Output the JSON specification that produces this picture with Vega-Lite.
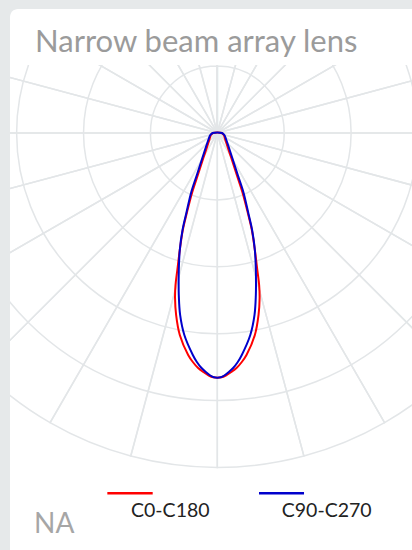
{
  "$schema": "https://vega.github.io/schema/vega-lite/v6.json",
  "width": 402,
  "height": 485,
  "autosize": {"type": "none"},
  "padding": {"left": 10, "top": 65, "right": 0, "bottom": 0},
  "background": "#e6e9ea",
  "config": {"view": {"stroke": null}, "font": "Lato"},
  "datasets": {
    "panel": [{"x0": -309.9, "x1": 350, "y0": -185.4, "y1": 700}],
    "grid": [
      {"t0": 0, "t1": 360, "r": 100}, {"t0": 0, "t1": 360, "r": 200}, {"t0": 0, "t1": 360, "r": 300}, {"t0": 0, "t1": 360, "r": 400},
      {"t0": 0, "t1": 15, "r": 500}, {"t0": 15, "t1": 30, "r": 500}, {"t0": 30, "t1": 45, "r": 500}, {"t0": 45, "t1": 60, "r": 500},
      {"t0": 60, "t1": 75, "r": 500}, {"t0": 75, "t1": 90, "r": 500}, {"t0": 90, "t1": 105, "r": 500}, {"t0": 105, "t1": 120, "r": 500},
      {"t0": 120, "t1": 135, "r": 500}, {"t0": 135, "t1": 150, "r": 500}, {"t0": 150, "t1": 165, "r": 500}, {"t0": 165, "t1": 180, "r": 500},
      {"t0": 180, "t1": 195, "r": 500}, {"t0": 195, "t1": 210, "r": 500}, {"t0": 210, "t1": 225, "r": 500}, {"t0": 225, "t1": 240, "r": 500},
      {"t0": 240, "t1": 255, "r": 500}, {"t0": 255, "t1": 270, "r": 500}, {"t0": 270, "t1": 285, "r": 500}, {"t0": 285, "t1": 300, "r": 500},
      {"t0": 300, "t1": 315, "r": 500}, {"t0": 315, "t1": 330, "r": 500}, {"t0": 330, "t1": 345, "r": 500}, {"t0": 345, "t1": 360, "r": 500}
    ],
    "curves": [
      {"series": "C0-C180", "o": 0, "x": 0, "y": -0.8},
      {"series": "C0-C180", "o": 1, "x": -6.5, "y": 0},
      {"series": "C0-C180", "o": 2, "x": -9.7, "y": 3},
      {"series": "C0-C180", "o": 3, "x": -12, "y": 10.5},
      {"series": "C0-C180", "o": 4, "x": -20.9, "y": 37.4},
      {"series": "C0-C180", "o": 5, "x": -29.1, "y": 62.8},
      {"series": "C0-C180", "o": 6, "x": -37.4, "y": 88.2},
      {"series": "C0-C180", "o": 7, "x": -45.6, "y": 119.6},
      {"series": "C0-C180", "o": 8, "x": -51.6, "y": 145},
      {"series": "C0-C180", "o": 9, "x": -56.1, "y": 174.9},
      {"series": "C0-C180", "o": 10, "x": -59.8, "y": 204.8},
      {"series": "C0-C180", "o": 11, "x": -62.5, "y": 227.2},
      {"series": "C0-C180", "o": 12, "x": -63.2, "y": 246.6},
      {"series": "C0-C180", "o": 13, "x": -61.6, "y": 272},
      {"series": "C0-C180", "o": 14, "x": -56.1, "y": 302},
      {"series": "C0-C180", "o": 15, "x": -43.6, "y": 331.8},
      {"series": "C0-C180", "o": 16, "x": -36.6, "y": 342.3},
      {"series": "C0-C180", "o": 17, "x": -28.7, "y": 351.3},
      {"series": "C0-C180", "o": 18, "x": -20.9, "y": 357.3},
      {"series": "C0-C180", "o": 19, "x": -12.7, "y": 362.5},
      {"series": "C0-C180", "o": 20, "x": -6, "y": 365.2},
      {"series": "C0-C180", "o": 21, "x": 0, "y": 365.8},
      {"series": "C0-C180", "o": 22, "x": 6, "y": 365.2},
      {"series": "C0-C180", "o": 23, "x": 12.7, "y": 362.5},
      {"series": "C0-C180", "o": 24, "x": 20.9, "y": 357.3},
      {"series": "C0-C180", "o": 25, "x": 28.7, "y": 351.3},
      {"series": "C0-C180", "o": 26, "x": 36.6, "y": 342.3},
      {"series": "C0-C180", "o": 27, "x": 43.6, "y": 331.8},
      {"series": "C0-C180", "o": 28, "x": 56.1, "y": 302},
      {"series": "C0-C180", "o": 29, "x": 61.6, "y": 272},
      {"series": "C0-C180", "o": 30, "x": 63.2, "y": 246.6},
      {"series": "C0-C180", "o": 31, "x": 62.5, "y": 227.2},
      {"series": "C0-C180", "o": 32, "x": 59.8, "y": 204.8},
      {"series": "C0-C180", "o": 33, "x": 56.1, "y": 174.9},
      {"series": "C0-C180", "o": 34, "x": 51.6, "y": 145},
      {"series": "C0-C180", "o": 35, "x": 45.6, "y": 119.6},
      {"series": "C0-C180", "o": 36, "x": 37.4, "y": 88.2},
      {"series": "C0-C180", "o": 37, "x": 29.1, "y": 62.8},
      {"series": "C0-C180", "o": 38, "x": 20.9, "y": 37.4},
      {"series": "C0-C180", "o": 39, "x": 12, "y": 10.5},
      {"series": "C0-C180", "o": 40, "x": 9.7, "y": 3},
      {"series": "C0-C180", "o": 41, "x": 6.5, "y": 0},
      {"series": "C0-C180", "o": 42, "x": 0, "y": -0.8},
      {"series": "C90-C270", "o": 0, "x": 0, "y": -0.8},
      {"series": "C90-C270", "o": 1, "x": -7, "y": 0},
      {"series": "C90-C270", "o": 2, "x": -10.5, "y": 3},
      {"series": "C90-C270", "o": 3, "x": -13.5, "y": 10.5},
      {"series": "C90-C270", "o": 4, "x": -22.4, "y": 37.4},
      {"series": "C90-C270", "o": 5, "x": -30.6, "y": 62.8},
      {"series": "C90-C270", "o": 6, "x": -38.9, "y": 88.2},
      {"series": "C90-C270", "o": 7, "x": -46.3, "y": 119.6},
      {"series": "C90-C270", "o": 8, "x": -52, "y": 145},
      {"series": "C90-C270", "o": 9, "x": -56.1, "y": 174.9},
      {"series": "C90-C270", "o": 10, "x": -57.6, "y": 204.8},
      {"series": "C90-C270", "o": 11, "x": -57.8, "y": 227.2},
      {"series": "C90-C270", "o": 12, "x": -57.6, "y": 242.2},
      {"series": "C90-C270", "o": 13, "x": -55.6, "y": 272},
      {"series": "C90-C270", "o": 14, "x": -49.3, "y": 302},
      {"series": "C90-C270", "o": 15, "x": -36.6, "y": 331.8},
      {"series": "C90-C270", "o": 16, "x": -30.6, "y": 342.3},
      {"series": "C90-C270", "o": 17, "x": -23.6, "y": 351.3},
      {"series": "C90-C270", "o": 18, "x": -17.2, "y": 357.3},
      {"series": "C90-C270", "o": 19, "x": -10.5, "y": 362.5},
      {"series": "C90-C270", "o": 20, "x": -5.2, "y": 365.2},
      {"series": "C90-C270", "o": 21, "x": 0, "y": 365.8},
      {"series": "C90-C270", "o": 22, "x": 5.2, "y": 365.2},
      {"series": "C90-C270", "o": 23, "x": 10.5, "y": 362.5},
      {"series": "C90-C270", "o": 24, "x": 17.2, "y": 357.3},
      {"series": "C90-C270", "o": 25, "x": 23.6, "y": 351.3},
      {"series": "C90-C270", "o": 26, "x": 30.6, "y": 342.3},
      {"series": "C90-C270", "o": 27, "x": 36.6, "y": 331.8},
      {"series": "C90-C270", "o": 28, "x": 49.3, "y": 302},
      {"series": "C90-C270", "o": 29, "x": 55.6, "y": 272},
      {"series": "C90-C270", "o": 30, "x": 57.6, "y": 242.2},
      {"series": "C90-C270", "o": 31, "x": 57.8, "y": 227.2},
      {"series": "C90-C270", "o": 32, "x": 57.6, "y": 204.8},
      {"series": "C90-C270", "o": 33, "x": 56.1, "y": 174.9},
      {"series": "C90-C270", "o": 34, "x": 52, "y": 145},
      {"series": "C90-C270", "o": 35, "x": 46.3, "y": 119.6},
      {"series": "C90-C270", "o": 36, "x": 38.9, "y": 88.2},
      {"series": "C90-C270", "o": 37, "x": 30.6, "y": 62.8},
      {"series": "C90-C270", "o": 38, "x": 22.4, "y": 37.4},
      {"series": "C90-C270", "o": 39, "x": 13.5, "y": 10.5},
      {"series": "C90-C270", "o": 40, "x": 10.5, "y": 3},
      {"series": "C90-C270", "o": 41, "x": 7, "y": 0},
      {"series": "C90-C270", "o": 42, "x": 0, "y": -0.8}
    ],
    "legend": [
      {"series": "C0-C180", "x0": -164.4, "x1": -96.6, "y": 538.6, "lx": -129, "ly": 573.6},
      {"series": "C90-C270", "x0": 62.3, "x1": 129.6, "y": 538.6, "lx": 96.3, "ly": 573.6}
    ],
    "title": [{"text": "Narrow beam array lens", "x": -272.5, "y": -121.1}],
    "note": [{"text": "NA", "x": -274, "y": 598.4}]
  },
  "layer": [
    {
      "data": {"name": "panel"},
      "mark": {"type": "rect", "fill": "#ffffff", "cornerRadius": 8, "clip": false},
      "encoding": {
        "x": {"field": "x0", "type": "quantitative", "scale": {"domain": [-309.9, 291.0], "nice": false, "zero": false}, "axis": null},
        "x2": {"field": "x1"},
        "y": {"field": "y0", "type": "quantitative", "scale": {"domain": [-101.6, 623.3], "reverse": true, "nice": false, "zero": false}, "axis": null},
        "y2": {"field": "y1"}
      }
    },
    {
      "data": {"name": "grid"},
      "mark": {"type": "arc", "fill": null, "filled": false, "stroke": "#e3e6e8", "strokeWidth": 1.5, "clip": true},
      "encoding": {
        "x": {"datum": 0, "type": "quantitative", "scale": {"domain": [-309.9, 291.0], "nice": false, "zero": false}, "axis": null},
        "y": {"datum": 0, "type": "quantitative", "scale": {"domain": [-101.6, 623.3], "reverse": true, "nice": false, "zero": false}, "axis": null},
        "theta": {"field": "t0", "type": "quantitative", "stack": null, "scale": {"domain": [0, 360], "range": [0, 6.283185307]}},
        "theta2": {"field": "t1"},
        "radius": {"field": "r", "type": "quantitative", "scale": {"type": "linear", "domain": [0, 500], "range": [0, 334.5], "zero": true}}
      }
    },
    {
      "data": {"name": "curves"},
      "mark": {"type": "line", "interpolate": "catmull-rom", "strokeWidth": 2, "clip": false},
      "encoding": {
        "x": {"field": "x", "type": "quantitative", "scale": {"domain": [-309.9, 291.0], "nice": false, "zero": false}, "axis": null},
        "y": {"field": "y", "type": "quantitative", "scale": {"domain": [-101.6, 623.3], "reverse": true, "nice": false, "zero": false}, "axis": null},
        "order": {"field": "o", "type": "quantitative"},
        "detail": {"field": "series"},
        "color": {"field": "series", "type": "nominal", "scale": {"domain": ["C0-C180", "C90-C270"], "range": ["#ff0000", "#0000cc"]}, "legend": null}
      }
    },
    {
      "data": {"name": "legend"},
      "mark": {"type": "rule", "strokeWidth": 2.5},
      "encoding": {
        "x": {"field": "x0", "type": "quantitative", "scale": {"domain": [-309.9, 291.0], "nice": false, "zero": false}, "axis": null},
        "x2": {"field": "x1"},
        "y": {"field": "y", "type": "quantitative", "scale": {"domain": [-101.6, 623.3], "reverse": true, "nice": false, "zero": false}, "axis": null},
        "color": {"field": "series", "type": "nominal", "scale": {"domain": ["C0-C180", "C90-C270"], "range": ["#ff0000", "#0000cc"]}, "legend": null}
      }
    },
    {
      "data": {"name": "legend"},
      "mark": {"type": "text", "align": "left", "baseline": "alphabetic", "font": "Lato", "fontSize": 19.5, "color": "#222222"},
      "encoding": {
        "x": {"field": "lx", "type": "quantitative", "scale": {"domain": [-309.9, 291.0], "nice": false, "zero": false}, "axis": null},
        "y": {"field": "ly", "type": "quantitative", "scale": {"domain": [-101.6, 623.3], "reverse": true, "nice": false, "zero": false}, "axis": null},
        "text": {"field": "series"}
      }
    },
    {
      "data": {"name": "title"},
      "mark": {"type": "text", "align": "left", "baseline": "alphabetic", "font": "Lato", "fontSize": 31, "color": "#9b9b9b"},
      "encoding": {
        "x": {"field": "x", "type": "quantitative", "scale": {"domain": [-309.9, 291.0], "nice": false, "zero": false}, "axis": null},
        "y": {"field": "y", "type": "quantitative", "scale": {"domain": [-101.6, 623.3], "reverse": true, "nice": false, "zero": false}, "axis": null},
        "text": {"field": "text"}
      }
    },
    {
      "data": {"name": "note"},
      "mark": {"type": "text", "align": "left", "baseline": "alphabetic", "font": "Lato", "fontSize": 28, "color": "#a6a6a6"},
      "encoding": {
        "x": {"field": "x", "type": "quantitative", "scale": {"domain": [-309.9, 291.0], "nice": false, "zero": false}, "axis": null},
        "y": {"field": "y", "type": "quantitative", "scale": {"domain": [-101.6, 623.3], "reverse": true, "nice": false, "zero": false}, "axis": null},
        "text": {"field": "text"}
      }
    }
  ]
}
